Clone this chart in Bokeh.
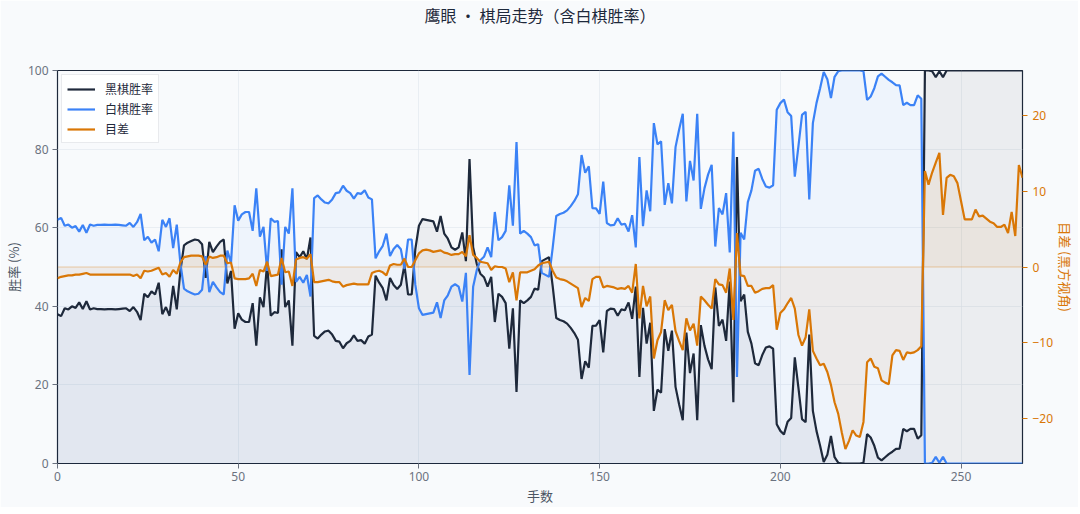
from bokeh.plotting import figure
from bokeh.models import Range1d, LinearAxis, Legend, LegendItem, Span, FixedTicker, Title
from bokeh.embed import file_html
from bokeh.resources import INLINE

FONT = "Noto Sans CJK SC"
NUM_FONT = "Noto Sans"

moves = list(range(268))

black_winrate = [
    38.0, 37.5, 39.5, 39.2, 40.0, 39.6, 41.0, 39.3, 41.3, 39.2,
    39.5, 39.3, 39.3, 39.2, 39.3, 39.3, 39.2, 39.3, 39.4, 39.5,
    38.8, 39.8, 38.6, 36.5, 43.2, 42.3, 43.8, 43.0, 46.0, 38.0,
    39.8, 37.6, 45.2, 39.2, 49.0, 55.5, 56.2, 56.6, 57.0, 56.8,
    55.8, 47.2, 56.4, 53.8, 55.2, 56.4, 57.0, 45.8, 49.0, 34.3,
    38.2, 36.6, 36.0, 36.0, 40.8, 30.0, 42.3, 39.8, 51.0, 37.6,
    38.5, 38.3, 54.5, 39.8, 41.5, 30.0, 53.8, 52.5, 54.0, 52.0,
    57.5, 32.5, 31.8, 32.8, 33.6, 33.8, 32.8, 31.2, 31.0, 29.3,
    30.6, 31.2, 32.6, 31.2, 31.4, 30.5, 32.3, 32.8, 47.8, 46.0,
    44.6, 41.5, 47.2, 45.4, 44.4, 45.5, 50.5, 43.0, 43.0, 54.5,
    60.5, 62.2, 62.0, 61.8, 61.6, 59.0, 63.0, 58.5, 57.2, 55.0,
    54.4, 55.0, 58.8, 51.5, 77.5, 55.0, 50.8, 48.3, 47.4, 45.0,
    47.5, 36.0, 43.2, 42.4, 40.8, 29.2, 39.5, 18.2, 41.5, 40.8,
    41.5, 42.4, 44.5, 44.2, 51.5, 52.0, 52.5, 45.2, 37.0, 36.5,
    36.2, 35.6, 34.5, 33.2, 31.5, 21.5, 26.0, 24.4, 35.0, 35.1,
    36.5, 28.3, 38.8, 39.4, 39.3, 37.6, 39.2, 39.0, 41.0, 36.8,
    45.0, 22.0, 39.6, 30.5, 35.8, 13.4, 18.8, 18.0, 34.2, 28.7,
    33.8, 19.5, 15.0, 11.0, 33.3, 23.0, 28.0, 11.0, 35.2, 30.0,
    26.5, 24.0, 44.8, 35.0, 36.6, 31.2, 46.3, 15.6, 78.0, 41.3,
    43.0, 33.5, 30.5, 25.5, 25.0, 27.6, 29.5, 29.8, 29.2, 10.0,
    8.3, 7.4, 10.6, 11.6, 27.0, 19.3, 11.3, 10.5, 32.8, 13.4,
    8.3, 4.5, 0.4, 2.2, 7.0, 1.6, 0.2, 0.0, 0.0, 0.0,
    0.0, 0.0, 0.0, 0.2, 7.5, 6.6, 4.5, 1.5, 0.8, 1.6,
    2.4, 3.0, 3.7, 3.8, 8.8, 8.2, 8.8, 8.8, 6.3, 7.2,
    100.0, 100.0, 99.8, 98.3, 99.8, 98.3, 100.0, 100.0, 100.0, 100.0,
    100.0, 100.0, 100.0, 100.0, 100.0, 100.0, 100.0, 100.0, 100.0, 100.0,
    100.0, 100.0, 100.0, 100.0, 100.0, 100.0, 100.0, 100.0,
]

white_winrate = [
    62.0, 62.5, 60.5, 60.8, 60.0, 60.4, 59.0, 60.7, 58.7, 60.8,
    60.5, 60.7, 60.7, 60.8, 60.7, 60.7, 60.8, 60.7, 60.6, 60.5,
    61.2, 60.2, 61.4, 63.5, 56.8, 57.7, 56.2, 57.0, 54.0, 62.0,
    60.2, 62.4, 54.8, 60.8, 51.0, 44.5, 43.8, 43.4, 43.0, 43.2,
    44.2, 52.8, 43.6, 46.2, 44.8, 43.6, 43.0, 54.2, 51.0, 65.7,
    61.8, 63.4, 64.0, 64.0, 59.2, 70.0, 57.7, 60.2, 49.0, 62.4,
    61.5, 61.7, 45.5, 60.2, 58.5, 70.0, 46.2, 47.5, 46.0, 48.0,
    42.5, 67.5, 68.2, 67.2, 66.4, 66.2, 67.2, 68.8, 69.0, 70.7,
    69.4, 68.8, 67.4, 68.8, 68.6, 69.5, 67.7, 67.2, 52.2, 54.0,
    55.4, 58.5, 52.8, 54.6, 55.6, 54.5, 49.5, 57.0, 57.0, 45.5,
    39.5, 37.8, 38.0, 38.2, 38.4, 41.0, 37.0, 41.5, 42.8, 45.0,
    45.6, 45.0, 41.2, 48.5, 22.5, 45.0, 49.2, 51.7, 52.6, 55.0,
    52.5, 64.0, 56.8, 57.6, 59.2, 70.8, 60.5, 81.8, 58.5, 59.2,
    58.5, 57.6, 55.5, 55.8, 48.5, 48.0, 47.5, 54.8, 63.0, 63.5,
    63.8, 64.4, 65.5, 66.8, 68.5, 78.5, 74.0, 75.6, 65.0, 64.9,
    63.5, 71.7, 61.2, 60.6, 60.7, 62.4, 60.8, 61.0, 59.0, 63.2,
    55.0, 78.0, 60.4, 69.5, 64.2, 86.6, 81.2, 82.0, 65.8, 71.3,
    66.2, 80.5, 85.0, 89.0, 66.7, 77.0, 72.0, 89.0, 64.8, 70.0,
    73.5, 76.0, 55.2, 65.0, 63.4, 68.8, 53.7, 84.4, 22.0, 58.7,
    57.0, 66.5, 69.5, 74.5, 75.0, 72.4, 70.5, 70.2, 70.8, 90.0,
    91.7, 92.6, 89.4, 88.4, 73.0, 80.7, 88.7, 89.5, 67.2, 86.6,
    91.7, 95.5, 99.6, 97.8, 93.0, 98.4, 99.8, 100.0, 100.0, 100.0,
    100.0, 100.0, 100.0, 99.8, 92.5, 93.4, 95.5, 98.5, 99.2, 98.4,
    97.6, 97.0, 96.3, 96.2, 91.2, 91.8, 91.2, 91.2, 93.7, 92.8,
    0.0, 0.0, 0.2, 1.7, 0.2, 1.7, 0.0, 0.0, 0.0, 0.0,
    0.0, 0.0, 0.0, 0.0, 0.0, 0.0, 0.0, 0.0, 0.0, 0.0,
    0.0, 0.0, 0.0, 0.0, 0.0, 0.0, 0.0, 0.0,
]

score_lead = [
    -1.5, -1.3, -1.2, -1.1, -1.1, -1.0, -1.0, -0.9, -0.8, -1.0,
    -1.0, -1.0, -1.0, -1.0, -1.0, -1.0, -1.0, -1.0, -1.0, -1.0,
    -1.0, -1.2, -1.0, -1.5, -0.5, -0.6, -0.5, -0.3, -0.1, -1.0,
    -0.8, -1.3, -0.4, -0.9, 0.6, 1.3, 1.4, 1.5, 1.5, 1.5,
    1.4, 0.3, 1.4, 1.2, 1.3, 1.5, 1.5, 0.5, 0.6, -1.5,
    -1.6, -1.6, -1.6, -1.5, -0.9, -2.5, -0.4, -0.6, 0.7, -1.2,
    -1.1, -1.0, 1.2, -0.7, -0.6, -2.5, 1.0, 1.2, 1.3, 1.1,
    1.7, -2.0, -2.0, -1.9, -1.8, -1.7, -1.9, -2.0, -2.0, -2.6,
    -2.4, -2.3, -2.2, -2.3, -2.3, -2.3, -2.3, -0.8, -0.6, -0.5,
    -0.7, -1.1, 0.2, 0.4, 0.3, 0.3, 1.1, 0.0, 0.0, 0.9,
    1.8, 2.2, 2.3, 2.2, 2.0, 2.1, 2.2, 1.9, 1.8, 1.6,
    1.7, 1.7, 2.0, 1.4, 4.2, 1.6, 1.2, 0.7, 0.6, 0.5,
    -0.4, 0.1, 0.0, 0.0, -0.2, -2.0, -0.7, -4.4, -0.7, -0.7,
    -0.7, -0.5, -0.3, 0.2, 0.5, 0.6, 0.7, -0.5, -1.4, -1.6,
    -1.7, -1.9, -2.2, -2.5, -2.8, -5.3, -4.1, -4.5, -1.6, -1.3,
    -1.3, -2.7, -2.5, -2.6, -2.7, -2.9, -2.8, -2.9, -2.5, -3.4,
    0.4, -6.8, -2.5, -5.2, -3.9, -12.1, -9.7, -8.6, -4.4, -5.7,
    -5.0, -8.5, -9.8, -11.0, -6.8, -8.4, -7.5, -10.4, -3.9, -4.4,
    -5.0, -5.5, -1.6, -2.3, -2.4, -3.4, -0.2, -7.0, 4.5, -1.1,
    -1.2, -2.5, -2.5, -3.4, -3.2, -2.9, -2.8, -2.8, -2.4, -8.3,
    -6.1, -5.6, -4.8, -4.1, -5.5, -9.0, -10.4, -9.3, -5.6, -11.1,
    -12.1, -13.0, -12.8, -13.9, -15.6, -17.9, -19.4, -21.9, -24.1, -23.0,
    -21.6, -22.3, -22.5, -20.5, -12.6, -12.1, -13.2, -13.4, -15.0, -15.3,
    -15.5, -11.7, -11.0, -11.1, -12.3, -11.3, -11.4, -11.3, -11.0, -10.5,
    12.7, 10.9, 12.5, 13.8, 15.1, 6.9, 11.8, 12.2, 12.0, 11.1,
    8.7, 6.3, 6.3, 6.3, 7.6, 6.7, 6.8, 6.4, 6.0, 5.8,
    5.3, 5.3, 5.6, 4.5, 7.3, 4.1, 13.5, 11.8,
]

x_ticks = [0, 50, 100, 150, 200, 250]
y_ticks = [0, 20, 40, 60, 80, 100]
score_ticks = [-20, -10, 0, 10, 20]

BLACK = "#1e293b"
BLUE = "#3b82f6"
ORANGE = "#d97706"
GRAY = "#6b7280"
BG = "#f8fafc"

p = figure(frame_width=965, frame_height=393, title=None,
           x_range=Range1d(0, 267), y_range=Range1d(0, 100),
           output_backend="svg", toolbar_location=None,
           min_border_left=50, min_border_right=10,
           min_border_top=10, min_border_bottom=10)
p.extra_y_ranges = {"score": Range1d(-26, 26)}

p.background_fill_color = BG
p.border_fill_color = BG
p.outline_line_color = BLACK
p.outline_line_width = 1.2

# spacer between the title and the frame, then the title itself
p.add_layout(Title(text=" ", text_font=FONT, text_font_size="12px",
                   standoff=25), "above")
p.add_layout(Title(text="鹰眼 · 棋局走势（含白棋胜率）", align="center",
                   text_font=FONT, text_font_size="16px",
                   text_font_style="normal", text_color=BLACK,
                   standoff=0), "above")

p.varea(x=moves, y1=0, y2=black_winrate, fill_color=BLACK, fill_alpha=0.06)
p.varea(x=moves, y1=0, y2=white_winrate, fill_color=BLUE, fill_alpha=0.05)
p.varea(x=moves, y1=0, y2=score_lead, fill_color=ORANGE, fill_alpha=0.07,
        y_range_name="score")

p.add_layout(Span(location=50, dimension="width", line_color=ORANGE,
                  line_alpha=0.35, line_width=1))

lb = p.line(moves, black_winrate, line_color=BLACK, line_width=2.2)
lw = p.line(moves, white_winrate, line_color=BLUE, line_width=2.2)
ls = p.line(moves, score_lead, line_color=ORANGE, line_width=2.2,
            y_range_name="score")

right = LinearAxis(y_range_name="score", axis_label="目差 (黑方视角)")
p.add_layout(right, "right")

for ax in [p.xaxis[0], p.yaxis[0], right]:
    ax.axis_line_color = None
    ax.minor_tick_line_color = None
    ax.major_tick_in = 0
    ax.major_tick_out = 5
    ax.major_tick_line_color = GRAY
    ax.major_label_text_font = NUM_FONT
    ax.major_label_text_font_size = "12px"
    ax.major_label_text_color = GRAY
    ax.axis_label_text_font = FONT
    ax.axis_label_text_font_size = "13px"
    ax.axis_label_text_font_style = "normal"
    ax.axis_label_text_color = "#4b5563"
    ax.axis_label_standoff = 2
    ax.major_label_standoff = 3

p.yaxis[0].major_label_standoff = 4
right.major_label_standoff = 5
right.axis_label_standoff = 0
p.xaxis[0].ticker = FixedTicker(ticks=x_ticks)
p.yaxis[0].ticker = FixedTicker(ticks=y_ticks)
right.ticker = FixedTicker(ticks=score_ticks)
p.xaxis[0].axis_label = "手数"
p.yaxis[0].axis_label = "胜率 (%)"
right.major_tick_line_color = ORANGE
right.major_label_text_color = ORANGE
right.axis_label_text_color = ORANGE

p.xgrid.ticker = FixedTicker(ticks=x_ticks)
p.ygrid.ticker = FixedTicker(ticks=y_ticks)
p.xgrid.grid_line_color = "#e2e8f0"
p.ygrid.grid_line_color = "#e2e8f0"
p.xgrid.grid_line_alpha = 0.7
p.ygrid.grid_line_alpha = 0.7

legend = Legend(items=[
    LegendItem(label="黑棋胜率", renderers=[lb]),
    LegendItem(label="白棋胜率", renderers=[lw]),
    LegendItem(label="目差", renderers=[ls]),
], location="top_left")
legend.label_text_font = FONT
legend.label_text_font_size = "12px"
legend.label_text_color = BLACK
legend.background_fill_color = "white"
legend.background_fill_alpha = 0.85
legend.border_line_color = "#d1d5db"
legend.border_line_width = 1
legend.glyph_width = 28
legend.glyph_height = 16
legend.label_height = 16
legend.label_standoff = 10
legend.spacing = 3
legend.padding = 5
legend.margin = 4
p.add_layout(legend)

open("out.html", "w").write(file_html(p, INLINE))
